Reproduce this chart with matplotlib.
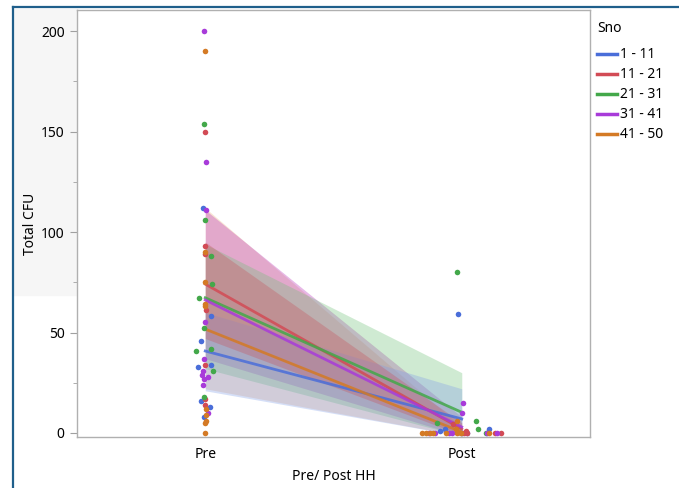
import numpy as np
import matplotlib
matplotlib.use('Agg')
import matplotlib.pyplot as plt
from matplotlib.lines import Line2D
from matplotlib.patches import Rectangle

plt.rcParams['font.family'] = ['Noto Sans', 'DejaVu Sans']

# groups and colours
groups = ['1 - 11', '11 - 21', '21 - 31', '31 - 41', '41 - 50']
colors = ['#4A6ED9', '#D24B55', '#43A84A', '#A83BD9', '#D47A25']
band_colors = ['#7F9CE8', '#C8505A', '#6CC074', '#C048C0', '#E8A870']
band_alpha = [0.32, 0.32, 0.32, 0.38, 0.3]
band_order = [4, 3, 2, 0, 1]
categories = ['Pre', 'Post']

# mean lines (Pre, Post)
mean_pre = [40.8, 74.1, 67.3, 66.2, 51.7]
mean_post = [7.0, 2.0, 10.3, 3.0, 0.5]

# confidence bands (lower, upper) at Pre and Post
band_pre_lo = [21, 47, 32, 37, 22]
band_pre_hi = [60, 95, 94, 111, 112]
band_post_lo = [-1.5, -1, -1.5, -1.5, -1.5]
band_post_hi = [22, 5, 30, 8, 3]

# raw points: values and jitter (category units)
pre_vals = [
    [112, 58, 46, 33, 34, 16, 13, 8],
    [150, 93, 89, 61, 34, 17, 14],
    [154, 106, 88, 74, 67, 52, 42, 41, 31, 18],
    [200, 135, 111, 55, 37, 31, 29, 27, 28, 24, 10],
    [190, 90, 75, 64, 63, 12, 9, 6, 5, 0],
]
pre_jit = [
    [-0.009, 0.023, -0.018, -0.028, 0.023, -0.016, 0.018, -0.004],
    [0.000, -0.002, 0.000, 0.002, -0.002, -0.002, 0.000],
    [-0.005, -0.002, 0.023, 0.026, -0.026, -0.004, 0.021, -0.035, 0.032, -0.004],
    [-0.004, 0.002, 0.002, -0.002, -0.005, -0.009, -0.011, -0.005, 0.010, -0.009, 0.010],
    [-0.002, -0.002, 0.000, -0.002, -0.002, 0.003, 0.002, 0.002, 0.000, 0.000],
]
post_vals = [
    [59, 2, 2, 1, 0, 0],
    [4.5, 1, 0, 0, 0, 0],
    [80, 5, 6, 2, 0],
    [15, 10, 0, 0, 0, 0, 0, 0],
    [6, 2, 0, 0, 0, 0, 0, 0, 0, 0],
]
post_jit = [
    [-0.015, 0.107, -0.064, -0.084, 0.021, 0.002],
    [-0.034, 0.018, 0.010, 0.022, 0.129, 0.153],
    [-0.019, -0.096, 0.056, 0.063, 0.096],
    [0.006, 0.002, -0.127, -0.104, -0.049, -0.037, 0.100, 0.139],
    [-0.017, -0.024, -0.155, -0.139, -0.123, -0.111, -0.060, -0.017, -0.002, 0.107],
]

W, H = 679, 488
fig = plt.figure(figsize=(W / 100, H / 100), dpi=100)

# light grey panel behind the y axis and the dark frame lines
fig.add_artist(Rectangle((14 / W, 1 - 295 / H), 63 / W, 286 / H,
                         transform=fig.transFigure, color='#f6f6f6', zorder=0))
fig.add_artist(Line2D([13 / W, 13 / W], [1 - 7 / H, 0], transform=fig.transFigure,
                      color='#1F5F8B', lw=1.6))
fig.add_artist(Line2D([13 / W, 1], [1 - 7 / H, 1 - 7 / H], transform=fig.transFigure,
                      color='#1F5F8B', lw=1.6))

ax = fig.add_axes([77 / W, 1 - 437 / H, 513 / W, 427 / H])
ax.set_facecolor('white')

xs = np.array([0, 1])
for i in band_order:
    ax.fill_between(xs, [band_pre_lo[i], band_post_lo[i]], [band_pre_hi[i], band_post_hi[i]],
                    color=band_colors[i], alpha=band_alpha[i], lw=0, zorder=1)
for i, g in enumerate(groups):
    ax.plot(xs, [mean_pre[i], mean_post[i]], color=colors[i], lw=2, alpha=0.85, zorder=2)
for i, g in enumerate(groups):
    ax.scatter(0 + np.array(pre_jit[i]), pre_vals[i], s=16, color=colors[i], lw=0, zorder=3)
    ax.scatter(1 + np.array(post_jit[i]), post_vals[i], s=16, color=colors[i], lw=0, zorder=3)

ax.set_xlim(-0.5, 1.5)
ax.set_ylim(-2, 210.5)
ax.set_xticks([0, 1])
ax.set_xticklabels(categories)
ax.set_yticks([0, 50, 100, 150, 200])
ax.set_yticks(np.arange(25, 200, 50), minor=True)
ax.tick_params(axis='y', which='major', length=5, color='#a0a0a0', labelsize=10, pad=4)
ax.tick_params(axis='y', which='minor', length=3, color='#a0a0a0')
ax.tick_params(axis='x', length=0, labelsize=10, pad=7)
for s in ax.spines.values():
    s.set_color('#b0b0b0')
    s.set_linewidth(1)

ax.set_xlabel('Pre/ Post HH', fontsize=10, labelpad=5)
ax.set_ylabel('Total CFU', fontsize=10, labelpad=2)

# legend drawn at fixed spots to the right of the plot
fig.text(597 / W, 1 - 28 / H, 'Sno', fontsize=10, va='center', ha='left')
for i, g in enumerate(groups):
    yy = 1 - (54 + 20 * i) / H
    fig.add_artist(Line2D([597 / W, 617 / W], [yy, yy], transform=fig.transFigure,
                          color=colors[i], lw=2.5))
    fig.text(620 / W, yy, g, fontsize=10, va='center', ha='left')

fig.savefig('out.png', dpi=100)
